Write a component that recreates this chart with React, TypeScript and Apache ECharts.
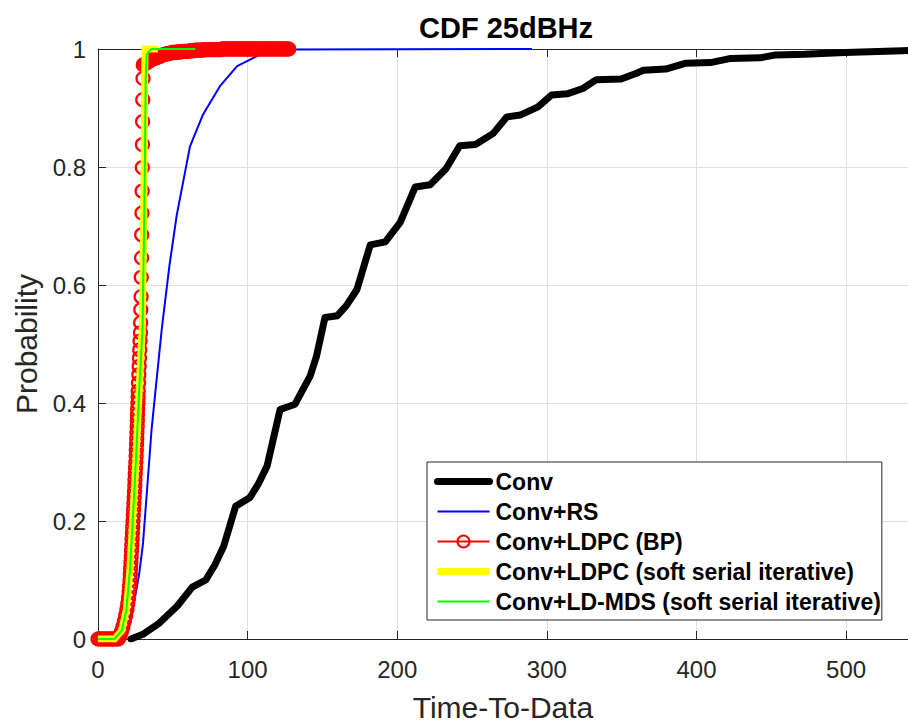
import React, { useEffect, useRef } from "react";
import * as echarts from "echarts";

const TITLE = "CDF 25dBHz";
const X_NAME = "Time-To-Data";
const Y_NAME = "Probability";
const seriesNames = [
  "Conv",
  "Conv+RS",
  "Conv+LDPC (BP)",
  "Conv+LDPC (soft serial iterative)",
  "Conv+LD-MDS (soft serial iterative)",
];
const X_MIN = 0;
const X_MAX = 541.4;
const X_STEP = 100;
const Y_MIN = 0;
const Y_MAX = 1;
const Y_STEP = 0.2;

// [Time-To-Data, Probability]
const convData = [
  [22, 0], [30, 0.008], [41, 0.027], [53, 0.056], [63, 0.088], [72, 0.1], [78, 0.125],
  [84, 0.157], [92, 0.225], [101.6, 0.24], [107, 0.262], [113, 0.293], [121.7, 0.389],
  [131.7, 0.398], [141.7, 0.445], [146, 0.479], [151.7, 0.545], [160, 0.548], [166, 0.565],
  [173, 0.592], [182, 0.668], [192, 0.673], [202, 0.706], [212, 0.766], [222, 0.77],
  [232.6, 0.797], [241.8, 0.836], [252.3, 0.838], [264.2, 0.857], [273.3, 0.885],
  [282.2, 0.888], [294.1, 0.902], [303.1, 0.922], [313.6, 0.924], [324.1, 0.933],
  [333.1, 0.948], [349.6, 0.949], [360, 0.959], [364.5, 0.964], [379.5, 0.966], [393, 0.976],
  [409.4, 0.977], [422.9, 0.984], [442.4, 0.985], [452.9, 0.99], [472.3, 0.991],
  [499.3, 0.994], [537.6, 0.997], [560, 0.999],
];

const convRsData = [
  [0, 0], [18, 0], [24, 0.06], [27.5, 0.11], [30, 0.16], [32.7, 0.25], [35.8, 0.355],
  [42.6, 0.525], [47.7, 0.632], [52.6, 0.718], [61.5, 0.835], [70, 0.888], [81.5, 0.937],
  [93, 0.971], [108, 0.99], [130, 0.999], [290, 1],
];

const ldpcBpData = [
  [0, 0], [1.5, 0], [3, 0], [4.5, 0], [6, 0], [7.5, 0], [9, 0], [10.5, 0], [12, 0], [13.5, 0],
  [14.6, 0.005], [15.6, 0.012], [16.6, 0.02], [17.6, 0.03], [18.5, 0.04], [19.3, 0.05],
  [19.9, 0.06], [20.4, 0.07], [20.8, 0.08], [21.1, 0.09], [21.4, 0.1], [21.6, 0.11],
  [21.8, 0.12], [22.0, 0.13], [22.2, 0.14], [22.4, 0.15], [22.6, 0.16], [22.8, 0.17],
  [23.0, 0.18], [23.2, 0.19], [23.4, 0.2], [23.6, 0.21], [23.8, 0.22], [24.0, 0.23],
  [24.2, 0.24], [24.4, 0.25], [24.6, 0.26], [24.7, 0.27], [24.9, 0.28], [25.1, 0.29],
  [25.3, 0.3], [25.5, 0.31], [25.6, 0.32], [25.8, 0.33], [25.9, 0.34], [26.0, 0.35],
  [26.2, 0.36], [26.3, 0.37], [26.4, 0.38], [26.5, 0.39], [26.7, 0.4], [26.8, 0.41],
  [26.9, 0.42], [27.1, 0.434], [27.3, 0.448], [27.5, 0.462], [27.7, 0.476], [27.9, 0.49],
  [28.1, 0.505], [28.4, 0.519], [28.5, 0.536], [28.6, 0.558], [28.8, 0.58], [28.9, 0.613],
  [29.1, 0.646], [29.2, 0.685], [29.4, 0.722], [29.5, 0.759], [29.6, 0.799], [29.7, 0.838],
  [29.8, 0.877], [29.9, 0.914], [30.1, 0.95], [30.3, 0.973],
  [31.5, 0.975], [32.7, 0.977], [33.9, 0.979], [35.1, 0.981], [36.3, 0.983], [37.5, 0.984],
  [38.7, 0.985], [39.9, 0.986], [41.1, 0.987], [42.3, 0.989], [43.5, 0.99], [44.7, 0.991],
  [45.9, 0.992], [47.1, 0.992], [48.3, 0.993], [49.5, 0.994], [50.7, 0.994], [51.9, 0.994],
  [53.1, 0.995], [54.3, 0.995], [55.5, 0.995], [56.7, 0.996], [57.9, 0.996], [59.1, 0.996],
  [60.3, 0.996], [61.5, 0.997], [62.7, 0.997], [63.9, 0.997], [65.1, 0.998], [66.3, 0.998],
  [67.5, 0.998], [68.7, 0.998], [69.9, 0.998], [71.1, 0.999], [72.3, 0.999], [73.5, 0.999],
  [74.7, 0.999], [75.9, 0.999], [77.1, 0.999], [78.3, 0.999], [79.5, 0.999], [80.7, 0.999],
  [81.9, 0.999], [83.1, 1], [84.3, 1], [85.5, 1], [86.7, 1], [87.9, 1], [89.1, 1], [90.3, 1],
  [91.5, 1], [92.7, 1], [93.9, 1], [95.1, 1], [96.3, 1], [97.5, 1], [98.7, 1], [99.9, 1],
  [101.1, 1], [102.3, 1], [103.5, 1], [104.7, 1], [105.9, 1], [107.1, 1], [108.3, 1],
  [109.5, 1], [110.7, 1], [111.9, 1], [113.1, 1], [114.3, 1], [115.5, 1], [116.7, 1],
  [117.9, 1], [119.1, 1], [120.3, 1], [121.5, 1], [122.7, 1], [123.9, 1], [125.1, 1],
  [126.3, 1], [127.5, 1],
];

const ldpcSoftData = [
  [0, 0], [11, 0], [15.8, 0.014], [19, 0.05], [21.4, 0.12], [24.7, 0.27], [27.5, 0.42],
  [29.6, 0.53], [30.4, 0.68], [30.9, 0.82], [31.2, 0.95], [31.4, 1.0], [40, 1.0],
];

const ldMdsData = [
  [0, 0], [11, 0], [15.8, 0.014], [19, 0.05], [21.4, 0.12], [24.7, 0.27], [27.5, 0.42],
  [29.8, 0.53], [30.7, 0.68], [31.4, 0.82], [31.9, 0.95], [32.5, 0.99], [35.5, 1.0], [65, 1.0],
];

const AXIS_COLOR = "#262626";
const GRID_COLOR = "#dfdfdf";
const FONT = "'Liberation Sans', Arial, Helvetica, sans-serif";

export default function App() {
  const ref = useRef<HTMLDivElement>(null);

  useEffect(() => {
    if (!ref.current) return;
    const chart = echarts.init(ref.current, undefined, { renderer: "svg" });
    const option: any = {
      animation: false,
      backgroundColor: "#ffffff",
      textStyle: { fontFamily: FONT },
      grid: { left: 98, right: 0, top: 49, bottom: 87, containLabel: false },
      graphic: [
        {
          type: "text",
          x: 506,
          y: 28,
          style: {
            text: TITLE,
            fill: "#000000",
            font: `bold 29px ${FONT}`,
            textAlign: "center",
            textVerticalAlign: "middle",
          },
          z: 100,
        },
      ],
      xAxis: [
        {
          type: "value",
          min: X_MIN,
          max: X_MAX,
          interval: X_STEP,
          name: X_NAME,
          nameLocation: "middle",
          nameGap: 53,
          nameTextStyle: { fontSize: 30, color: AXIS_COLOR, fontFamily: FONT },
          axisLine: { show: true, onZero: false, lineStyle: { color: AXIS_COLOR, width: 1 } },
          axisTick: { show: true, inside: true, length: 8, lineStyle: { color: AXIS_COLOR } },
          axisLabel: {
            show: true,
            fontSize: 24,
            color: AXIS_COLOR,
            margin: 18,
            showMaxLabel: false,
            fontFamily: FONT,
          },
          splitLine: { show: true, lineStyle: { color: GRID_COLOR, width: 1 } },
        },
        {
          type: "value",
          position: "top",
          min: X_MIN,
          max: X_MAX,
          interval: X_STEP,
          axisLine: { show: true, onZero: false, lineStyle: { color: AXIS_COLOR, width: 1 } },
          axisTick: { show: true, inside: true, length: 8, lineStyle: { color: AXIS_COLOR } },
          axisLabel: { show: false },
          splitLine: { show: false },
        },
      ],
      yAxis: [
        {
          type: "value",
          min: Y_MIN,
          max: Y_MAX,
          interval: Y_STEP,
          name: Y_NAME,
          nameLocation: "middle",
          nameGap: 52,
          nameTextStyle: { fontSize: 30, color: AXIS_COLOR, fontFamily: FONT },
          axisLine: { show: true, onZero: false, lineStyle: { color: AXIS_COLOR, width: 1 } },
          axisTick: { show: true, inside: true, length: 8, lineStyle: { color: AXIS_COLOR } },
          axisLabel: { show: true, fontSize: 24, color: AXIS_COLOR, margin: 12, fontFamily: FONT },
          splitLine: { show: true, lineStyle: { color: GRID_COLOR, width: 1 } },
        },
      ],
      legend: {
        orient: "vertical",
        left: 427,
        top: 462,
        padding: [8, 1, 7, 7],
        itemWidth: 52,
        itemHeight: 15,
        itemGap: 7,
        backgroundColor: "#ffffff",
        borderColor: AXIS_COLOR,
        borderWidth: 1,
        borderRadius: 0,
        selectedMode: false,
        lineStyle: { width: "inherit" },
        textStyle: {
          fontSize: 23,
          fontWeight: "bold",
          color: "#000000",
          fontFamily: FONT,
          lineHeight: 23,
          padding: [0, 0, 0, 1],
        },
        data: [
          { name: seriesNames[0], itemStyle: { opacity: 0 } },
          { name: seriesNames[1], itemStyle: { opacity: 0 } },
          { name: seriesNames[2] },
          { name: seriesNames[3], itemStyle: { opacity: 0 } },
          { name: seriesNames[4], itemStyle: { opacity: 0 } },
        ],
        z: 20,
      },
      series: [
        {
          name: seriesNames[0],
          type: "line",
          data: convData,
          symbol: "none",
          z: 2,
          itemStyle: { color: "#000000" },
          lineStyle: { color: "#000000", width: 7, join: "round", cap: "round" },
        },
        {
          name: seriesNames[1],
          type: "line",
          data: convRsData,
          symbol: "none",
          z: 3,
          itemStyle: { color: "#0000ff" },
          lineStyle: { color: "#0000ff", width: 2 },
        },
        {
          name: seriesNames[2],
          type: "line",
          data: ldpcBpData,
          symbol: "circle",
          symbolSize: 13,
          showSymbol: true,
          showAllSymbol: true,
          z: 4,
          itemStyle: { color: "rgba(255,0,0,0)", borderColor: "#ff0000", borderWidth: 2.2 },
          lineStyle: { color: "#ff0000", width: 2 },
        },
        {
          name: seriesNames[3],
          type: "line",
          data: ldpcSoftData,
          symbol: "none",
          z: 5,
          itemStyle: { color: "#ffff00" },
          lineStyle: { color: "#ffff00", width: 7, join: "miter" },
        },
        {
          name: seriesNames[4],
          type: "line",
          data: ldMdsData,
          symbol: "none",
          z: 6,
          itemStyle: { color: "#00ff00" },
          lineStyle: { color: "#00ff00", width: 2 },
        },
      ],
    };
    chart.setOption(option);
    return () => {
      chart.dispose();
    };
  }, []);

  return (
    <div
      ref={ref}
      style={{ position: "fixed", left: 0, top: 0, width: 908, height: 727, background: "#fff" }}
    />
  );
}
